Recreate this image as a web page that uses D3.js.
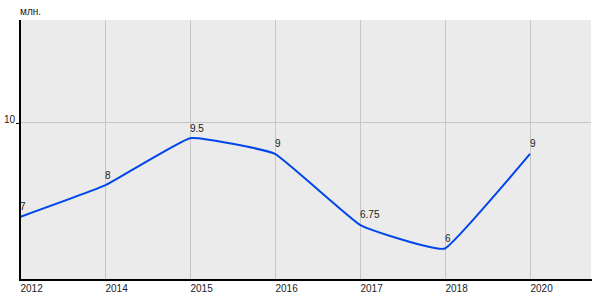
<!DOCTYPE html>
<html>
<head>
    <meta charset="utf-8">
    <script src="https://unpkg.com/d3@7.0.0/dist/d3.min.js"></script>
    <style>
        body { margin: 0; background: #fff; }
        text { font-family: "Liberation Sans", Arial, sans-serif; font-size: 10px; fill: #222; }
    </style>
</head>
<body>
    <div id="chart"></div>
    <script>
        // данные
        const years = ["2012", "2014", "2015", "2016", "2017", "2018", "2020"];
        const values = [7, 8, 9.5, 9, 6.75, 6, 9];
        const valueLabels = ["7", "8", "9.5", "9", "6.75", "6", "9"];
        const yTicks = [10];
        const unitLabel = "млн.";

        const W = 600, H = 300;
        const plotL = 20, plotR = 591, plotT = 20, plotB = 280;
        const step = 85;

        const svg = d3.select("#chart").append("svg").attr("width", W).attr("height", H);

        const x = d3.scalePoint().domain(years).range([plotL, plotL + step * (years.length - 1)]);
        const y = d3.scaleLinear().domain([5, 13.25]).range([plotB, plotT]);

        // фон
        svg.append("rect").attr("x", plotL).attr("y", plotT)
            .attr("width", plotR - plotL).attr("height", plotB - plotT).attr("fill", "#ebebeb");

        // сетка
        svg.append("g").selectAll("line").data(years).enter().append("line")
            .attr("x1", d => x(d) + 0.5).attr("x2", d => x(d) + 0.5)
            .attr("y1", plotT).attr("y2", plotB)
            .attr("stroke", "#c6c6c6").attr("stroke-width", 1);
        svg.append("g").selectAll("line").data(yTicks).enter().append("line")
            .attr("x1", plotL).attr("x2", plotR)
            .attr("y1", d => Math.round(y(d)) + 0.5).attr("y2", d => Math.round(y(d)) + 0.5)
            .attr("stroke", "#c6c6c6").attr("stroke-width", 1);

        // линия
        const line = d3.line()
            .x((d, i) => x(years[i]))
            .y(d => y(d))
            .curve(d3.curveCardinal.tension(0.7));
        svg.append("path").datum(values)
            .attr("d", line)
            .attr("fill", "none")
            .attr("stroke", "#0046ea")
            .attr("stroke-width", 2);

        // подписи значений
        svg.append("g").selectAll("text").data(values).enter().append("text")
            .attr("x", (d, i) => x(years[i]))
            .attr("y", d => y(d) - 6.5)
            .text((d, i) => valueLabels[i]);

        // оси
        const yAxis = d3.axisLeft(y).tickValues(yTicks).tickSize(4).tickFormat(d3.format("d"));
        const gy = svg.append("g").attr("transform", `translate(${plotL},0.5)`).call(yAxis);
        gy.select(".domain").remove();
        gy.selectAll("line").attr("stroke", "#000");
        gy.selectAll("text").attr("x", -5).attr("dy", "-0.05em")
            .style("font-size", "10px").attr("fill", "#222");

        const xAxis = d3.axisBottom(x).tickSize(0);
        const gx = svg.append("g").attr("transform", `translate(0,${plotB})`).call(xAxis);
        gx.select(".domain").remove();
        gx.selectAll("text").attr("text-anchor", "start").attr("y", 5).attr("dy", "0.71em")
            .style("font-size", "10px").attr("fill", "#222");

        svg.append("line").attr("x1", plotL).attr("x2", plotL).attr("y1", plotT).attr("y2", plotB + 1)
            .attr("stroke", "#000").attr("stroke-width", 2);
        svg.append("line").attr("x1", plotL - 1).attr("x2", plotR + 1).attr("y1", plotB).attr("y2", plotB)
            .attr("stroke", "#000").attr("stroke-width", 2);

        svg.append("text").attr("x", plotL).attr("y", 15).text(unitLabel);
    </script>
</body>
</html>
